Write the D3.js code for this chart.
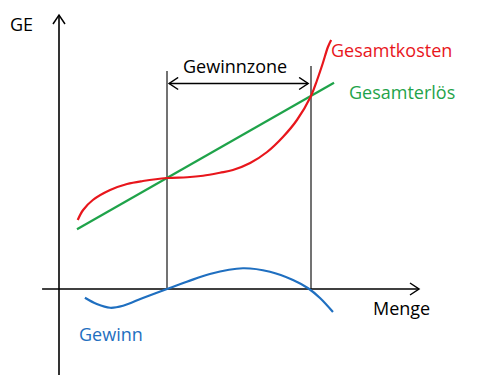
<!DOCTYPE html>
<html>
<head>
<meta charset="utf-8">
<script src="https://cdn.jsdelivr.net/npm/d3@7"></script>
<style>
  html, body { margin: 0; padding: 0; background: #fff; }
  svg { display: block; }
  text { font-family: "Open Sans", "Noto Sans", sans-serif; }
</style>
</head>
<body>
<svg id="chart" width="480" height="380"></svg>
<script>
// ---- data (x = Menge, y = GE) ----
const kostenX = [5.2, 6.7, 9.4, 14.2, 18.9, 23.3, 30, 35.6, 40, 44.7, 48.3, 53.1, 57.8, 62.2, 66.1, 70, 71.7, 73.3, 74.7, 75.6];
const kostenY = [27.6, 31.6, 35.6, 39.6, 42, 43.2, 44.4, 44.7, 45.3, 46.5, 47.6, 50.4, 54.8, 60.8, 67.6, 77.2, 83.6, 90.4, 96.8, 99.6];
const erloesX = [5, 76.4];
const erloesY = [23.9, 82.5];
const gewinnX = [7.2, 10.5, 14.2, 17.8, 23.3, 30, 35.5, 41.9, 51.1, 58.6, 65, 69.2, 72.5, 76.1];
const gewinnY = [-3.5, -6, -7.5, -6.7, -3.6, 0, 2.9, 6, 8.3, 6.9, 3.6, 0.3, -3.6, -9.2];
const breakEvenX = [30, 70];
const breakEvenTop = [87.2, 89.2];
const zoneArrowX = [30.6, 69.2];
const zoneArrowY = 82.2;
const xAxisExtent = [-4.7, 100];
const yAxisExtent = [-34.4, 109.6];
const labels = { y: "GE", x: "Menge", zone: "Gewinnzone", kosten: "Gesamtkosten", erloes: "Gesamterlös", gewinn: "Gewinn" };

const colors = { kosten: "#e8161c", erloes: "#1fa34a", gewinn: "#1f6fc0", axis: "#000", guide: "#444" };

const svg = d3.select("#chart");
const x = d3.scaleLinear().domain([0, 100]).range([59, 419]);
const y = d3.scaleLinear().domain([0, 100]).range([289, 39]);

// markers
const defs = svg.append("defs");
function openArrow(id, color) {
  defs.append("marker")
    .attr("id", id).attr("viewBox", "-10 -7 12 14")
    .attr("refX", 0).attr("refY", 0)
    .attr("markerWidth", 12).attr("markerHeight", 14)
    .attr("markerUnits", "userSpaceOnUse")
    .attr("orient", "auto-start-reverse")
    .append("path").attr("d", "M-9,-6 L0,0 L-9,6")
    .attr("fill", "none").attr("stroke", color).attr("stroke-width", 1.5);
}
openArrow("arr", "#000");

// guides (break-even verticals)
svg.selectAll(".guide").data(breakEvenX).join("line")
  .attr("x1", d => x(d)).attr("x2", d => x(d))
  .attr("y1", (d, i) => y(breakEvenTop[i])).attr("y2", y(0))
  .attr("stroke", colors.guide).attr("stroke-width", 1.5);

// axes
svg.append("line")
  .attr("x1", x(xAxisExtent[0])).attr("x2", x(xAxisExtent[1]))
  .attr("y1", y(0)).attr("y2", y(0))
  .attr("stroke", colors.axis).attr("stroke-width", 1.6)
  .attr("marker-end", "url(#arr)");
svg.append("line")
  .attr("x1", x(0)).attr("x2", x(0))
  .attr("y1", y(yAxisExtent[0])).attr("y2", y(yAxisExtent[1]))
  .attr("stroke", colors.axis).attr("stroke-width", 1.6)
  .attr("marker-end", "url(#arr)");

// Gewinnzone arrow
svg.append("line")
  .attr("x1", x(zoneArrowX[0])).attr("x2", x(zoneArrowX[1]))
  .attr("y1", y(zoneArrowY)).attr("y2", y(zoneArrowY))
  .attr("stroke", "#000").attr("stroke-width", 1.5)
  .attr("marker-start", "url(#arr)").attr("marker-end", "url(#arr)");

const line = d3.line().x(d => x(d[0])).y(d => y(d[1])).curve(d3.curveCatmullRom.alpha(0.5));

svg.append("path").datum(d3.zip(erloesX, erloesY))
  .attr("d", d3.line().x(d => x(d[0])).y(d => y(d[1])))
  .attr("fill", "none").attr("stroke", colors.erloes).attr("stroke-width", 2.2);
svg.append("path").datum(d3.zip(kostenX, kostenY))
  .attr("d", line)
  .attr("fill", "none").attr("stroke", colors.kosten).attr("stroke-width", 2.2);
svg.append("path").datum(d3.zip(gewinnX, gewinnY))
  .attr("d", line)
  .attr("fill", "none").attr("stroke", colors.gewinn).attr("stroke-width", 2.2);

// labels
function label(txt, px, py, color) {
  svg.append("text").attr("x", px).attr("y", py)
    .attr("font-size", 18).attr("fill", color).text(txt);
}
label(labels.y, 10, 31, "#000");
label(labels.x, 373, 315, "#000");
label(labels.zone, 183, 73, "#000");
label(labels.kosten, 331, 57, colors.kosten);
label(labels.erloes, 349, 99, colors.erloes);
label(labels.gewinn, 79, 341, colors.gewinn);
</script>
</body>
</html>
